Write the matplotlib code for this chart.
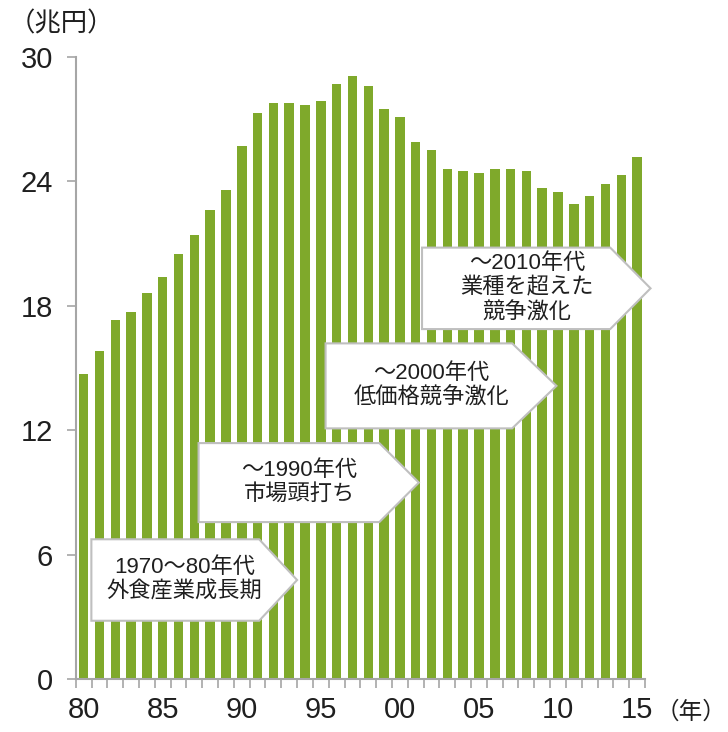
import matplotlib
matplotlib.use("Agg")
import matplotlib.pyplot as plt
from matplotlib.patches import Polygon
import numpy as np

plt.rcParams['font.family'] = ['Liberation Sans', 'Noto Sans CJK JP', 'DejaVu Sans']

# 外食産業市場規模 (兆円), 1980-2015
years = list(range(1980, 2016))
values = [14.7, 15.8, 17.3, 17.7, 18.6, 19.4, 20.5, 21.4, 22.6, 23.6,
          25.7, 27.3, 27.8, 27.8, 27.7, 27.9, 28.7, 29.1, 28.6, 27.5,
          27.1, 25.9, 25.5, 24.6, 24.5, 24.4, 24.6, 24.6, 24.5, 23.7,
          23.5, 22.9, 23.3, 23.9, 24.3, 25.2]
yticks = [0, 6, 12, 18, 24, 30]
label_years = [1980, 1985, 1990, 1995, 2000, 2005, 2010, 2015]

# 時代区分の吹き出し (左端, 本体右端, 先端, 上, 下, 文字)
callouts = [
    (0.49, 11.1, 13.5, 6.74, 2.81, '1970～80年代\n外食産業成長期'),
    (7.27, 18.7, 21.2, 11.38, 7.57, '～1990年代\n市場頭打ち'),
    (15.3, 27.1, 29.9, 16.19, 12.09, '～2000年代\n低価格競争激化'),
    (21.4, 33.3, 35.85, 20.81, 16.88, '～2010年代\n業種を超えた\n競争激化'),
]

grey = '#a6a6a6'
txt = '#1f1f1f'

fig = plt.figure(figsize=(7.28, 7.32), dpi=100)
ax = fig.add_axes([0.104, 0.0724, 0.782, 0.8496])

x = np.arange(len(years))
ax.bar(x, values, width=0.6, color='#7fa92b', zorder=2)

ax.set_xlim(-0.5, len(years) - 0.5)
ax.set_ylim(0, 30)

for s in ['top', 'right']:
    ax.spines[s].set_visible(False)
for s in ['left', 'bottom']:
    ax.spines[s].set_color(grey)
    ax.spines[s].set_linewidth(1.5)

ax.set_yticks(yticks)
ax.set_yticklabels([str(v) for v in yticks])
ax.tick_params(axis='y', length=6.5, width=1.2, color=grey, labelsize=21,
               labelcolor=txt, pad=10)

ax.set_xticks(np.arange(len(years) + 1) - 0.5)
ax.set_xticklabels([])
ax.tick_params(axis='x', which='major', length=6.5, width=1.2, color=grey)
ax.set_xticks([years.index(y) for y in label_years], minor=True)
ax.set_xticklabels(['%02d' % (y % 100) for y in label_years], minor=True)
ax.tick_params(axis='x', which='minor', length=0, labelsize=21,
               labelcolor=txt, pad=12)

for left, right, tip, top, bottom, label in callouts:
    mid = (top + bottom) / 2
    poly = Polygon([(left, bottom), (left, top), (right, top), (tip, mid),
                    (right, bottom)], closed=True, facecolor='white',
                   edgecolor='#bfbfbf', linewidth=1.5, zorder=3,
                   clip_on=False)
    ax.add_patch(poly)
    ax.text((left + tip) / 2 - 0.6, mid, label, ha='center', va='center',
            fontsize=16, color=txt, linespacing=1.2, zorder=4)

fig.text(0.012, 0.968, '（兆円）', fontsize=19, color=txt, ha='left',
         va='center')
fig.text(0.998, 0.027, '（年）', fontsize=17, color=txt, ha='right',
         va='center')

fig.savefig('out.png', dpi=100)
